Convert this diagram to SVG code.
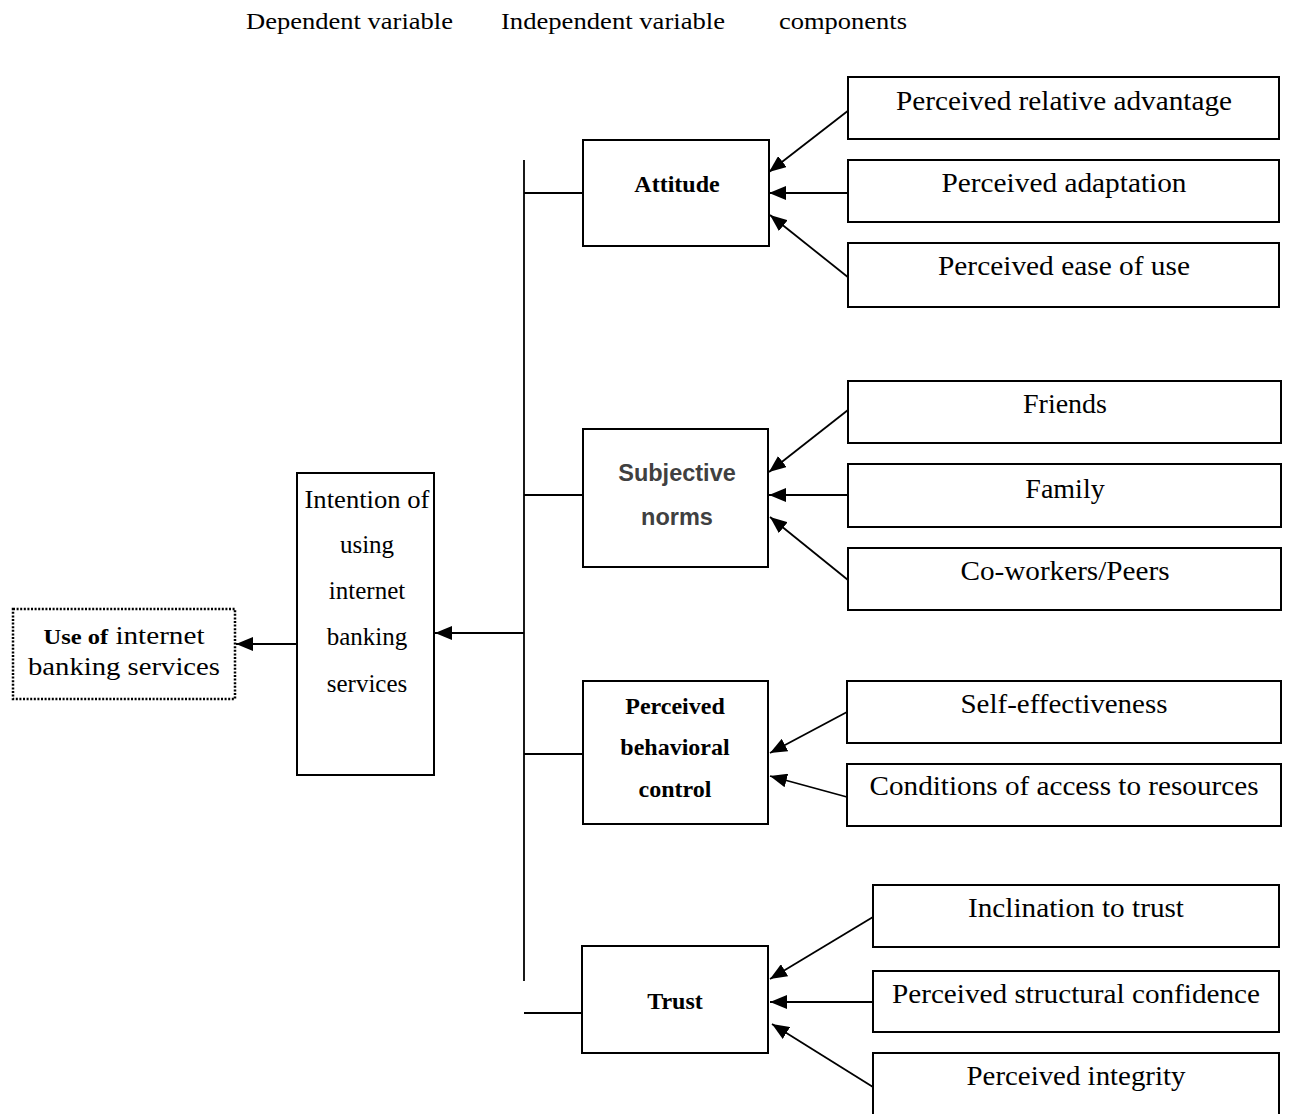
<svg xmlns="http://www.w3.org/2000/svg" width="1289" height="1114" viewBox="0 0 1289 1114">
<style>
  .box{fill:#fff;stroke:#000;stroke-width:2}
  .ln{fill:none;stroke:#000;stroke-width:1.8}
  .t{font-family:"Liberation Serif","Times New Roman",serif;fill:#000;text-anchor:middle}
  .r{font-size:28px}
  .b{font-weight:bold;font-size:24px}
  .hdr{font-family:"Liberation Serif","Times New Roman",serif;font-size:23px;fill:#000}
  .sans{font-family:"Liberation Sans",Arial,sans-serif;font-weight:bold;font-size:23.5px;fill:#404040;text-anchor:middle}
</style>
<defs>
  <marker id="ah" markerUnits="userSpaceOnUse" markerWidth="18" markerHeight="14" refX="17" refY="7" orient="auto">
    <path d="M0,0 L17,7 L0,14 Z" fill="#000"/>
  </marker>
</defs>

<g id="header">
  <text class="hdr" x="246" y="29" textLength="207" lengthAdjust="spacingAndGlyphs">Dependent variable</text>
  <text class="hdr" x="501" y="29" textLength="224" lengthAdjust="spacingAndGlyphs">Independent variable</text>
  <text class="hdr" x="779" y="29" textLength="128" lengthAdjust="spacingAndGlyphs">components</text>
</g>

<g id="connectors">
  <line class="ln" x1="524" y1="160" x2="524" y2="981"/>
  <line class="ln" x1="524" y1="193" x2="583" y2="193"/>
  <line class="ln" x1="524" y1="495" x2="583" y2="495"/>
  <line class="ln" x1="524" y1="754" x2="583" y2="754"/>
  <line class="ln" x1="524" y1="1013" x2="582" y2="1013"/>
  <line class="ln" x1="524" y1="633" x2="435" y2="633" marker-end="url(#ah)"/>
  <line class="ln" x1="296" y1="644" x2="236" y2="644" marker-end="url(#ah)"/>
  <!-- attitude -->
  <line class="ln" x1="849" y1="110" x2="769" y2="172" marker-end="url(#ah)"/>
  <line class="ln" x1="849" y1="193" x2="769" y2="193" marker-end="url(#ah)"/>
  <line class="ln" x1="849" y1="278" x2="770" y2="215" marker-end="url(#ah)"/>
  <!-- subjective -->
  <line class="ln" x1="848" y1="410" x2="769" y2="472" marker-end="url(#ah)"/>
  <line class="ln" x1="848" y1="495" x2="769" y2="495" marker-end="url(#ah)"/>
  <line class="ln" x1="848" y1="580" x2="770" y2="517" marker-end="url(#ah)"/>
  <!-- pbc -->
  <line class="ln" x1="847" y1="712" x2="770" y2="753" marker-end="url(#ah)"/>
  <line class="ln" x1="847" y1="797" x2="770" y2="776" marker-end="url(#ah)"/>
  <!-- trust -->
  <line class="ln" x1="873" y1="917" x2="770" y2="979" marker-end="url(#ah)"/>
  <line class="ln" x1="873" y1="1002" x2="770" y2="1002" marker-end="url(#ah)"/>
  <line class="ln" x1="873" y1="1087" x2="772" y2="1024" marker-end="url(#ah)"/>
</g>

<g id="use">
  <rect x="13" y="609" width="222" height="90" fill="#fff" stroke="#000" stroke-width="2.5" stroke-dasharray="2 1.6"/>
  <text class="t" x="124" y="644" font-size="25" textLength="161" lengthAdjust="spacingAndGlyphs"><tspan font-weight="bold" font-size="21">Use of</tspan> internet</text>
  <text class="t" x="124" y="675" font-size="26" textLength="192" lengthAdjust="spacingAndGlyphs">banking services</text>
</g>

<g id="intention">
  <rect class="box" x="297" y="473" width="137" height="302"/>
  <text class="t" x="367" y="508" font-size="25" textLength="125" lengthAdjust="spacingAndGlyphs">Intention of</text>
  <text class="t" x="367" y="553" font-size="25">using</text>
  <text class="t" x="367" y="599" font-size="25">internet</text>
  <text class="t" x="367" y="645" font-size="25">banking</text>
  <text class="t" x="367" y="692" font-size="25">services</text>
</g>

<g id="attitude">
  <rect class="box" x="583" y="140" width="186" height="106"/>
  <text class="t b" x="677" y="192">Attitude</text>
</g>

<g id="subjective">
  <rect class="box" x="583" y="429" width="185" height="138"/>
  <text class="sans" x="677" y="481">Subjective</text>
  <text class="sans" x="677" y="525">norms</text>
</g>

<g id="pbc">
  <rect class="box" x="583" y="681" width="185" height="143"/>
  <text class="t b" x="675" y="714">Perceived</text>
  <text class="t b" x="675" y="755">behavioral</text>
  <text class="t b" x="675" y="797">control</text>
</g>

<g id="trust">
  <rect class="box" x="582" y="946" width="186" height="107"/>
  <text class="t b" x="675" y="1009" font-size="26">Trust</text>
</g>

<g id="adv">
  <rect class="box" x="848" y="77" width="431" height="62"/>
  <text class="t r" x="1064" y="110" textLength="336" lengthAdjust="spacingAndGlyphs">Perceived relative advantage</text>
</g>
<g id="adapt">
  <rect class="box" x="848" y="160" width="431" height="62"/>
  <text class="t r" x="1064" y="192" textLength="245" lengthAdjust="spacingAndGlyphs">Perceived adaptation</text>
</g>
<g id="ease">
  <rect class="box" x="848" y="243" width="431" height="64"/>
  <text class="t r" x="1064" y="275" textLength="252" lengthAdjust="spacingAndGlyphs">Perceived ease of use</text>
</g>

<g id="friends">
  <rect class="box" x="848" y="381" width="433" height="62"/>
  <text class="t r" x="1065" y="413">Friends</text>
</g>
<g id="family">
  <rect class="box" x="848" y="464" width="433" height="63"/>
  <text class="t r" x="1065" y="498">Family</text>
</g>
<g id="coworkers">
  <rect class="box" x="848" y="548" width="433" height="62"/>
  <text class="t r" x="1065" y="580" textLength="209" lengthAdjust="spacingAndGlyphs">Co-workers/Peers</text>
</g>

<g id="self">
  <rect class="box" x="847" y="681" width="434" height="62"/>
  <text class="t r" x="1064" y="713" textLength="207" lengthAdjust="spacingAndGlyphs">Self-effectiveness</text>
</g>
<g id="conditions">
  <rect class="box" x="847" y="764" width="434" height="62"/>
  <text class="t r" x="1064" y="795" textLength="389" lengthAdjust="spacingAndGlyphs">Conditions of access to resources</text>
</g>

<g id="inclination">
  <rect class="box" x="873" y="885" width="406" height="62"/>
  <text class="t r" x="1076" y="917" textLength="216" lengthAdjust="spacingAndGlyphs">Inclination to trust</text>
</g>
<g id="structural">
  <rect class="box" x="873" y="971" width="406" height="61"/>
  <text class="t r" x="1076" y="1003" textLength="368" lengthAdjust="spacingAndGlyphs">Perceived structural confidence</text>
</g>
<g id="integrity">
  <rect class="box" x="873" y="1053" width="406" height="66"/>
  <text class="t r" x="1076" y="1085" textLength="219" lengthAdjust="spacingAndGlyphs">Perceived integrity</text>
</g>
</svg>
